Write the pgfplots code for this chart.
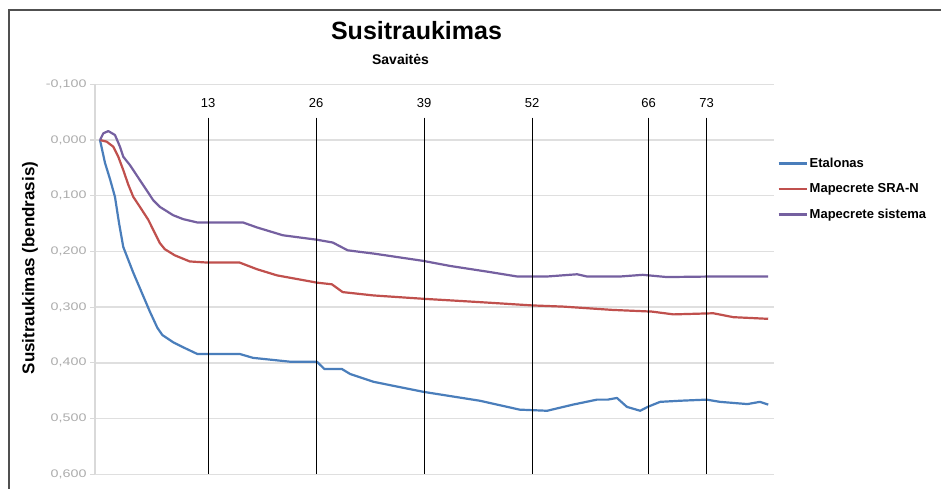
\documentclass[border=0pt]{standalone}
\usepackage{fontspec}
\setmainfont{Liberation Sans}
\newfontfamily\tickfont[FakeStretch=1.3]{Liberation Sans}
\usepackage{pgfplots}
\pgfplotsset{compat=1.18}
\definecolor{serBlue}{HTML}{4A7EBB}
\definecolor{serRed}{HTML}{C0504D}
\definecolor{serPurple}{HTML}{7560A0}
\definecolor{frameGray}{HTML}{505050}

\begin{document}
\begin{tikzpicture}[x=1pt,y=1pt]
\useasboundingbox (0,0) rectangle (941,489);
\fill[white] (0,0) rectangle (941,489);
\draw[frameGray, line width=2pt] (9,0) -- (9,479) -- (941,479);

\begin{axis}[
    at={(100pt,349pt)}, anchor=origin,
    scale only axis, width=679pt, height=390pt,
    xmin=-0.6, xmax=81.1,
    ymin=-0.1, ymax=0.6, y dir=reverse,
    axis x line=none, axis y line*=left,
    y axis line style={gray!30, line width=1.2pt},
    xtick=\empty,
    ytick={-0.1,0,0.1,0.2,0.3,0.4,0.5,0.6},
    ymajorgrids,
    grid style={gray!25, line width=1.4pt},
    tick align=outside, major tick length=5pt,
    tick style={gray!30, line width=1.2pt},
    yticklabel style={font=\tickfont\fontsize{11}{11}\selectfont, text=gray!65},
    /pgf/number format/.cd, fixed, fixed zerofill, precision=3, use comma, assume math mode=true,
    /pgfplots/.cd,
    legend style={at={(axis cs:81.5,0.088)}, anchor=west, draw=none, fill=none,
        font=\bfseries\fontsize{13}{13}\selectfont, row sep=8.5pt,
        inner sep=0pt, nodes={inner sep=2pt, text height=10pt, text depth=3pt, anchor=west}},
    legend cell align=left,
    legend image code/.code={\draw[#1] (0pt,0pt) -- (28pt,0pt);},
]
\addplot[serBlue, line width=2.2pt, line join=round] coordinates {
 (0,0) (0.6,0.041) (1.2,0.07) (1.8,0.102) (2.3,0.15) (2.8,0.192) (4,0.238) (5,0.273)
 (6,0.308) (6.9,0.337) (7.5,0.35) (8.8,0.363) (10,0.372) (11.7,0.384) (16.8,0.384)
 (18.4,0.391) (22.9,0.398) (26.1,0.398) (27,0.411) (29.1,0.411) (30.1,0.42) (32.9,0.434)
 (38.9,0.452) (45.7,0.468) (50.5,0.484) (53.8,0.486) (56.9,0.475) (59.8,0.466) (61.1,0.466)
 (62.2,0.463) (63.4,0.479) (65.0,0.486) (65.9,0.479) (67.4,0.470) (69.8,0.468) (73.0,0.466)
 (74.6,0.470) (77.9,0.474) (79.4,0.470) (80.4,0.475)
};
\addlegendentry{Etalonas}
\addplot[serRed, line width=2.2pt, line join=round] coordinates {
 (0,0) (0.8,0.003) (1.6,0.012) (2.2,0.03) (2.8,0.054) (3.4,0.08) (4,0.102) (4.8,0.12)
 (5.8,0.143) (7.2,0.185) (7.8,0.196) (9,0.207) (10.8,0.218) (12.9,0.22) (16.8,0.22)
 (18.9,0.232) (21.3,0.243) (26.1,0.256) (27.9,0.259) (29.2,0.273) (32.9,0.279) (38.9,0.285)
 (45.7,0.291) (52.1,0.297) (55.7,0.299) (61.7,0.305) (66.4,0.308) (69,0.313) (73.8,0.311)
 (76.2,0.318) (80.4,0.321)
};
\addlegendentry{Mapecrete SRA-N}
\addplot[serPurple, line width=2.2pt, line join=round] coordinates {
 (0,0) (0.4,-0.012) (1,-0.016) (1.8,-0.009) (2.4,0.012) (2.8,0.03) (3.6,0.045) (4.8,0.072)
 (6.4,0.108) (7.2,0.12) (8.8,0.135) (10,0.142) (11.7,0.148) (17.2,0.148) (18.9,0.157)
 (22,0.171) (26.1,0.179) (28,0.184) (29.8,0.198) (33,0.204) (38.9,0.217) (42.1,0.226)
 (46.9,0.237) (50.2,0.245) (53.8,0.245) (57.4,0.241) (58.6,0.245) (62.6,0.245) (65.3,0.242)
 (68.2,0.246) (73.8,0.245) (80.4,0.245)
};
\addlegendentry{Mapecrete sistema}

% week markers
\addplot[black, line width=1pt, forget plot] coordinates {(13,-0.04) (13,0.6)};
\addplot[black, line width=1pt, forget plot] coordinates {(26,-0.04) (26,0.6)};
\addplot[black, line width=1pt, forget plot] coordinates {(39,-0.04) (39,0.6)};
\addplot[black, line width=1pt, forget plot] coordinates {(52,-0.04) (52,0.6)};
\addplot[black, line width=1pt, forget plot] coordinates {(66,-0.04) (66,0.6)};
\addplot[black, line width=1pt, forget plot] coordinates {(73,-0.04) (73,0.6)};
\foreach \w in {13,26,39,52,66,73}{
  \edef\temp{\noexpand\node[font=\noexpand\fontsize{13}{13}\noexpand\selectfont] at (axis cs:\w,-0.066) {\w};}
  \temp
}
\end{axis}

\node[anchor=base, font=\bfseries\fontsize{25}{25}\selectfont] at (416.5,449) {Susitraukimas};
\node[anchor=base, font=\bfseries\fontsize{14}{14}\selectfont] at (400.5,424) {Savaitės};
\node[rotate=90, font=\bfseries\fontsize{17}{17}\selectfont] at (30,221) {Susitraukimas (bendrasis)};
\end{tikzpicture}
\end{document}
